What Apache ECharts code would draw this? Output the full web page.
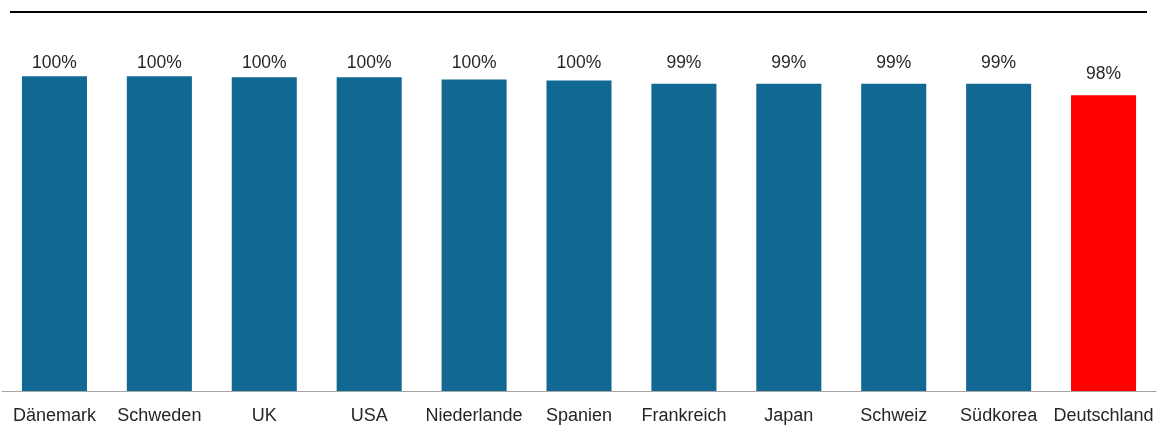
<!DOCTYPE html>
<html>
<head>
<meta charset="utf-8">
<style>
  html, body { margin: 0; padding: 0; background: #fff; }
  #chart { width: 1158px; height: 425px; }
</style>
<script src="https://cdn.jsdelivr.net/npm/echarts@6/dist/echarts.min.js"></script>
</head>
<body>
<div id="chart"></div>
<script>
// Countries, left to right
const countries = ['Dänemark', 'Schweden', 'UK', 'USA', 'Niederlande', 'Spanien',
  'Frankreich', 'Japan', 'Schweiz', 'Südkorea', 'Deutschland'];
// Share in percent
const shares = [100.0, 100.0, 99.9, 99.9, 99.7, 99.6, 99.3, 99.3, 99.3, 99.3, 98.2];
// Highlighted country
const highlight = 'Deutschland';

const BLUE = '#116892';
const RED = '#ff0000';
const FONT = '"Liberation Sans", Arial, sans-serif';
const LABEL_CEILING = 54; // value labels never rise above this line

const chart = echarts.init(document.getElementById('chart'), null, { renderer: 'canvas' });

chart.setOption({
  animation: false,
  grid: { left: 2, right: 2, top: 76.3, bottom: 31.5, containLabel: false },
  xAxis: {
    type: 'category',
    data: countries,
    axisLine: { show: true, lineStyle: { color: '#a6a6a6', width: 1 } },
    axisTick: { show: false },
    axisLabel: { color: '#262626', fontFamily: FONT, fontSize: 18, margin: 16, interval: 0 }
  },
  yAxis: {
    type: 'value',
    min: 70,
    max: 100,
    show: false,
    splitLine: { show: false }
  },
  series: [{
    type: 'bar',
    data: shares.map((v, i) => ({
      value: v,
      itemStyle: { color: countries[i] === highlight ? RED : BLUE }
    })),
    barCategoryGap: '38%',
    label: {
      show: true,
      position: 'top',
      distance: 12,
      color: '#262626',
      fontFamily: FONT,
      fontSize: 17.5,
      formatter: p => Math.round(p.value) + '%'
    },
    labelLayout: p => ({ dy: Math.max(0, LABEL_CEILING - p.labelRect.y) })
  }],
  graphic: [{
    type: 'line',
    shape: { x1: 10, y1: 12, x2: 1147, y2: 12 },
    style: { stroke: '#000', lineWidth: 2 }
  }]
});
</script>
</body>
</html>
